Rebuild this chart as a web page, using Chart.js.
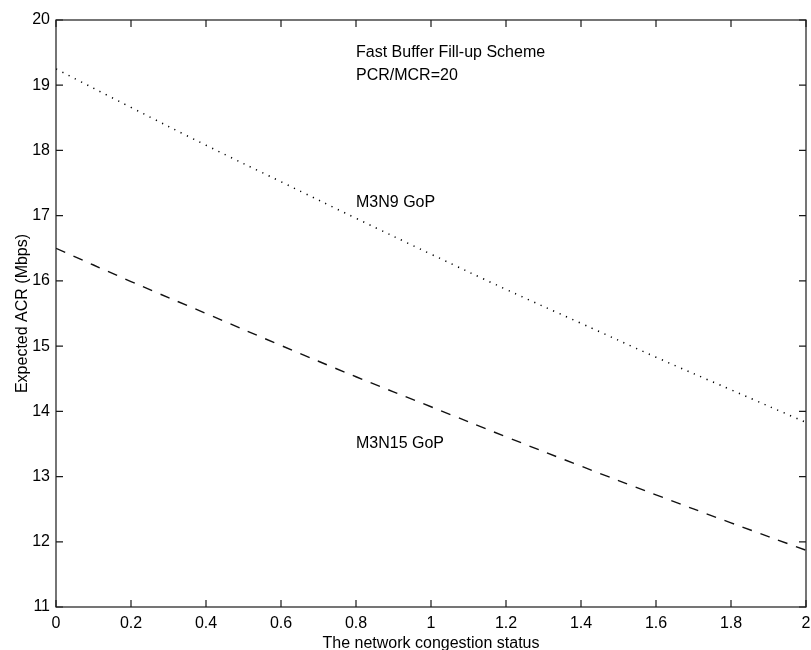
<!DOCTYPE html>
<html>
<head>
<meta charset="utf-8">
<script src="https://cdn.jsdelivr.net/npm/chart.js@4/dist/chart.umd.min.js"></script>
<style>
  html, body { margin: 0; padding: 0; background: #fff; }
  #wrap { width: 811px; height: 650px; }
</style>
</head>
<body>
<div id="wrap"><canvas id="acr-chart" width="811" height="650"></canvas></div>
<script>
// values
const congestion = [0, 0.2, 0.4, 0.6, 0.8, 1.0, 1.2, 1.4, 1.6, 1.8, 2.0];
const acrM3N9  = [19.25, 18.66, 18.08, 17.52, 16.96, 16.41, 15.87, 15.35, 14.83, 14.33, 13.83];
const acrM3N15 = [16.50, 15.99, 15.50, 15.01, 14.53, 14.07, 13.61, 13.16, 12.72, 12.29, 11.87];

const xTickValues = [0, 0.2, 0.4, 0.6, 0.8, 1, 1.2, 1.4, 1.6, 1.8, 2];
const xTickLabels = ['0', '0.2', '0.4', '0.6', '0.8', '1', '1.2', '1.4', '1.6', '1.8', '2'];
const yTickValues = [11, 12, 13, 14, 15, 16, 17, 18, 19, 20];
const yTickLabels = ['11', '12', '13', '14', '15', '16', '17', '18', '19', '20'];

// text placed inside the plot, in data coordinates
const notes = [
  { x: 0.8, y: 19.5, text: 'Fast Buffer Fill-up Scheme' },
  { x: 0.8, y: 19.15, text: 'PCR/MCR=20' },
  { x: 0.8, y: 17.2, text: 'M3N9 GoP' },
  { x: 0.8, y: 13.5, text: 'M3N15 GoP' }
];

const FONT = "'Liberation Sans', Arial, Helvetica, sans-serif";
const INK = '#1a1a1a';

function toPoints(xs, ys) {
  return xs.map((x, i) => ({ x: x, y: ys[i] }));
}

// box round the plot with inward ticks on all four sides
const frame = {
  id: 'frame',
  afterDatasetsDraw(chart) {
    const { ctx, chartArea: a, scales } = chart;
    const len = 7;
    ctx.save();
    ctx.strokeStyle = INK;
    ctx.lineWidth = 1.2;
    ctx.strokeRect(a.left, a.top, a.right - a.left, a.bottom - a.top);
    ctx.beginPath();
    xTickValues.forEach(v => {
      const px = scales.x.getPixelForValue(v);
      ctx.moveTo(px, a.bottom); ctx.lineTo(px, a.bottom - len);
      ctx.moveTo(px, a.top); ctx.lineTo(px, a.top + len);
    });
    yTickValues.forEach(v => {
      const py = scales.y.getPixelForValue(v);
      ctx.moveTo(a.left, py); ctx.lineTo(a.left + len, py);
      ctx.moveTo(a.right, py); ctx.lineTo(a.right - len, py);
    });
    ctx.stroke();

    ctx.fillStyle = '#000';
    ctx.font = '16px ' + FONT;
    ctx.textAlign = 'left';
    ctx.textBaseline = 'middle';
    notes.forEach(n => {
      ctx.fillText(n.text, scales.x.getPixelForValue(n.x), scales.y.getPixelForValue(n.y));
    });
    ctx.restore();
  }
};

const ctx = document.getElementById('acr-chart').getContext('2d');
const acrChart = new Chart(ctx, {
  type: 'line',
  data: {
    datasets: [
      {
        label: 'M3N9 GoP',
        data: toPoints(congestion, acrM3N9),
        borderColor: '#000',
        borderWidth: 1.5,
        borderDash: [1.2, 5.8],
        pointRadius: 0,
        tension: 0.4,
        fill: false
      },
      {
        label: 'M3N15 GoP',
        data: toPoints(congestion, acrM3N15),
        borderColor: '#111',
        borderWidth: 1.4,
        borderDash: [10, 9],
        pointRadius: 0,
        tension: 0.4,
        fill: false
      }
    ]
  },
  options: {
    responsive: false,
    animation: false,
    layout: { padding: { top: 20, right: 5, left: 0, bottom: 0 } },
    plugins: {
      legend: { display: false },
      tooltip: { enabled: false }
    },
    scales: {
      x: {
        type: 'linear',
        min: 0,
        max: 2,
        grid: { display: false, drawTicks: false },
        border: { display: false },
        afterBuildTicks: scale => { scale.ticks = xTickValues.map(v => ({ value: v })); },
        afterFit: scale => {
          scale.height = 43;
          scale.paddingLeft = 0;
          scale.paddingRight = 0;
        },
        ticks: {
          color: '#000',
          padding: 7,
          maxRotation: 0,
          font: { family: FONT, size: 16 },
          callback: value => xTickLabels[xTickValues.indexOf(value)]
        },
        title: {
          display: true,
          text: 'The network congestion status',
          color: '#000',
          padding: { top: 0, bottom: -3 },
          font: { family: FONT, size: 16 }
        }
      },
      y: {
        min: 11,
        max: 20,
        grid: { display: false, drawTicks: false },
        border: { display: false },
        afterBuildTicks: scale => { scale.ticks = yTickValues.map(v => ({ value: v })); },
        afterFit: scale => {
          scale.width = 56;
          scale.paddingTop = 0;
          scale.paddingBottom = 0;
        },
        ticks: {
          color: '#000',
          padding: 6,
          font: { family: FONT, size: 16 },
          callback: value => yTickLabels[yTickValues.indexOf(value)]
        },
        title: {
          display: true,
          text: 'Expected ACR (Mbps)',
          color: '#000',
          padding: { top: 13, bottom: 0 },
          font: { family: FONT, size: 16 }
        }
      }
    }
  },
  plugins: [frame]
});
</script>
</body>
</html>
